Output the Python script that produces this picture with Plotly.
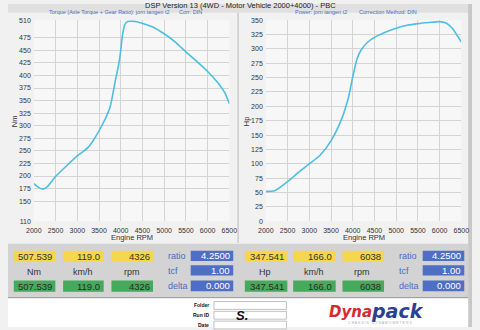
import plotly.graph_objects as go

W, H = 480, 330

# ---------------- data ----------------
rpm_torque = [2000, 2100, 2200, 2300, 2400, 2500, 2750, 3000, 3250, 3500, 3750, 3870, 3960,
              4000, 4036, 4089, 4150, 4326, 4450, 4600, 4750, 5000, 5250, 5500, 5750, 6000,
              6250, 6400, 6500]
torque_nm = [185, 178, 174, 178, 188, 199, 220, 240, 257, 290, 336, 387, 425,
             450, 477, 500, 507, 507.5, 505, 501, 496, 483, 467, 447, 428, 408,
             384, 365, 344]

rpm_power = [2000, 2200, 2500, 2750, 3000, 3250, 3500, 3750, 3900, 4000, 4100, 4200, 4350, 4500,
             4750, 5000, 5250, 5500, 5750, 6000, 6147, 6296, 6444, 6500]
power_hp = [52, 53, 69, 85, 100, 115, 140, 179, 215, 251, 283, 299, 312, 320,
            329, 336, 341, 344, 346, 347.5, 345, 335.5, 318.5, 312]

rpm_ticks = [2000, 2500, 3000, 3500, 4000, 4500, 5000, 5500, 6000, 6500]
torque_ticks = [110, 150, 175, 200, 225, 250, 275, 300, 325, 350, 375, 400, 425, 450, 475, 510]
power_ticks = [0, 25, 50, 75, 100, 125, 150, 175, 200, 225, 250, 275, 300, 325, 350]

title_text = "DSP Version 13 (4WD - Motor Vehicle 2000+4000) - PBC"
sub_left_a = "Torque (Axle Torque + Gear Ratio): jorn tangen t2"
sub_left_b = "Corr: DIN"
sub_right_a = "Power: jorn tangen t2"
sub_right_b = "Correction Method: DIN"

left_yellow = ["507.539", "119.0", "4326"]
left_green = ["507.539", "119.0", "4326"]
right_yellow = ["347.541", "166.0", "6038"]
right_green = ["347.541", "166.0", "6038"]
unit_left = ["Nm", "km/h", "rpm"]
unit_right = ["Hp", "km/h", "rpm"]
param_names = ["ratio", "tcf", "delta"]
param_values = ["4.2500", "1.00", "0.000"]
form_labels = ["Folder", "Run ID", "Date"]

# ---------------- helpers ----------------
def X(px):
    return px / W

def Y(py):
    return 1 - py / H

FONT = "Liberation Sans, Arial, sans-serif"
CURVE = "#4dbfe2"
GRID = "#d4d4d4"
BLUE_TXT = "#4a6cc0"
YELLOW = "#f6d64a"
GREEN = "#46a95c"
BLUEBOX = "#4f6fc6"

fig = go.Figure()
fig.add_trace(go.Scatter(x=rpm_torque, y=torque_nm, mode="lines",
                         line=dict(color=CURVE, width=1.6, shape="spline", smoothing=0.6),
                         xaxis="x", yaxis="y", hoverinfo="skip"))
fig.add_trace(go.Scatter(x=rpm_power, y=power_hp, mode="lines",
                         line=dict(color=CURVE, width=1.6, shape="spline", smoothing=0.6),
                         xaxis="x2", yaxis="y2", hoverinfo="skip"))

axfont = dict(family=FONT, size=7, color="#333333")
common_x = dict(range=[2000, 6500], tickvals=rpm_ticks, ticktext=[str(v) for v in rpm_ticks],
                showgrid=True, gridcolor=GRID, gridwidth=1, zeroline=False, showline=False,
                tickfont=axfont, ticks="", ticklabelstandoff=4, fixedrange=True)
common_y = dict(showgrid=True, gridcolor=GRID, gridwidth=1, zeroline=False, showline=False,
                tickfont=axfont, ticks="", ticklabelstandoff=2, fixedrange=True)

ydom = [Y(222), Y(16.5)]
fig.update_layout(
    width=W, height=H, margin=dict(l=0, r=0, t=0, b=0),
    paper_bgcolor="#f1f1f1", plot_bgcolor="#f7f7f7", showlegend=False,
    xaxis=dict(domain=[X(26.7), X(229)], anchor="y", **common_x),
    yaxis=dict(domain=ydom, anchor="x", range=[110, 510], tickvals=torque_ticks,
               ticktext=[str(v) for v in torque_ticks], **common_y),
    xaxis2=dict(domain=[X(266.7), X(469)], anchor="y2", **common_x),
    yaxis2=dict(domain=ydom, anchor="x2", range=[0, 350], tickvals=power_ticks,
                ticktext=[str(v) for v in power_ticks], **common_y),
)

shapes = []
ann = []

def rect(x0, y0, x1, y1, fill, line=None, lw=0):
    shapes.append(dict(type="rect", xref="paper", yref="paper", x0=X(x0), x1=X(x1),
                       y0=Y(y1), y1=Y(y0), fillcolor=fill,
                       line=dict(color=line or fill, width=lw), layer="below"))

def text(x, y, s, size=7, color="#333333", xanchor="center", bold=False, italic=False,
         family=FONT, angle=0):
    s2 = s
    if bold:
        s2 = "<b>" + s2 + "</b>"
    if italic:
        s2 = "<i>" + s2 + "</i>"
    ann.append(dict(xref="paper", yref="paper", x=X(x), y=Y(y), text=s2, showarrow=False,
                    xanchor=xanchor, yanchor="middle", textangle=angle,
                    font=dict(family=family, size=size, color=color)))

# top strip and title
rect(0, 0, 480, 9, "#e0e0e0")
text(240, 1.5, title_text, size=7.5, color="#222222")
text(40, 8, sub_left_a, size=5.5, color=BLUE_TXT, xanchor="left")
text(175, 8, sub_left_b, size=5.5, color=BLUE_TXT, xanchor="left")
text(295, 8, sub_right_a, size=5.5, color=BLUE_TXT, xanchor="left")
text(361, 8, sub_right_b, size=5.5, color=BLUE_TXT, xanchor="left")

# separator between charts
shapes.append(dict(type="line", xref="paper", yref="paper", x0=X(238), x1=X(238),
                   y0=Y(244), y1=Y(9), line=dict(color="#b8b8b8", width=1)))
# right scan edge
rect(476, 0, 480, 330, "#c8c8c8")

# axis titles
text(7, 120, "Nm", size=7.5, color="#333333", angle=-90)
text(247, 120, "Hp", size=7.5, color="#333333", angle=-90)
text(128, 239, "Engine RPM", size=7.5, color="#333333")
text(368, 239, "Engine RPM", size=7.5, color="#333333")

# bottom readout panel
rect(0, 245, 476, 300, "#d3d3d3")
shapes.append(dict(type="line", xref="paper", yref="paper", x0=0, x1=X(476),
                   y0=Y(300), y1=Y(300), line=dict(color="#9a9a9a", width=1)))
rect(0, 301, 476, 330, "#ffffff")

vfont = 9.5

def value_box(x0, x1, y0, y1, fill, s, color):
    rect(x0, y0, x1, y1, fill)
    text(x1 - 1.5, (y0 + y1) / 2, s, size=vfont, color=color, xanchor="right")

left_boxes = [(6, 49), (57, 99), (107, 150)]
right_boxes = [(245, 289), (295, 339), (346, 389)]
unit_left_x = [27, 78, 128]
unit_right_x = [266, 317, 366]
for (x0, x1), s in zip(left_boxes, left_yellow):
    value_box(x0, x1, 252, 263, YELLOW, s, "#333333")
for (x0, x1), s in zip(left_boxes, left_green):
    value_box(x0, x1, 282.5, 294, GREEN, s, "#2a2a2a")
for (x0, x1), s in zip(right_boxes, right_yellow):
    value_box(x0, x1, 252, 263, YELLOW, s, "#333333")
for (x0, x1), s in zip(right_boxes, right_green):
    value_box(x0, x1, 282.5, 294, GREEN, s, "#2a2a2a")
for xc, s in zip(unit_left_x, unit_left):
    text(xc, 274, s, size=9, color="#333333")
for xc, s in zip(unit_right_x, unit_right):
    text(xc, 274, s, size=9, color="#333333")

param_rows = [(252, 262.5), (267, 277.5), (282.5, 293.5)]
for bx0, bx1, lx in [(189, 233, 163), (429, 472, 402)]:
    for (y0, y1), name, val in zip(param_rows, param_names, param_values):
        text(lx, (y0 + y1) / 2 + 0.5, name, size=9, color=BLUE_TXT, xanchor="left")
        value_box(bx0, bx1, y0, y1, BLUEBOX, val, "#ffffff")

# form fields
form_rows = [(304, 312), (314, 322), (324, 332)]
for (y0, y1), lab in zip(form_rows, form_labels):
    text(210, (y0 + y1) / 2, lab, size=5, color="#111111", xanchor="right", bold=True)
    shapes.append(dict(type="rect", xref="paper", yref="paper", x0=X(213), x1=X(288),
                       y0=Y(y1), y1=Y(y0), fillcolor="#ffffff",
                       line=dict(color="#b0b0b0", width=0.8)))
text(242, 318, "S.", size=13, color="#111111", bold=True, italic=True)

# logo
text(330, 315, "Dyna", size=15, color="#d42a30", xanchor="left", bold=True, italic=True,
     family="DejaVu Sans, sans-serif")
text(373, 314, "pack", size=19, color="#2c3f92", xanchor="left", bold=True, italic=True,
     family="DejaVu Sans, sans-serif")
text(385, 326, "C H A S S I S   D Y N A M O M E T E R S", size=3.5, color="#aab0c0")

fig.update_layout(shapes=shapes, annotations=ann)
fig.write_html("out.html")
